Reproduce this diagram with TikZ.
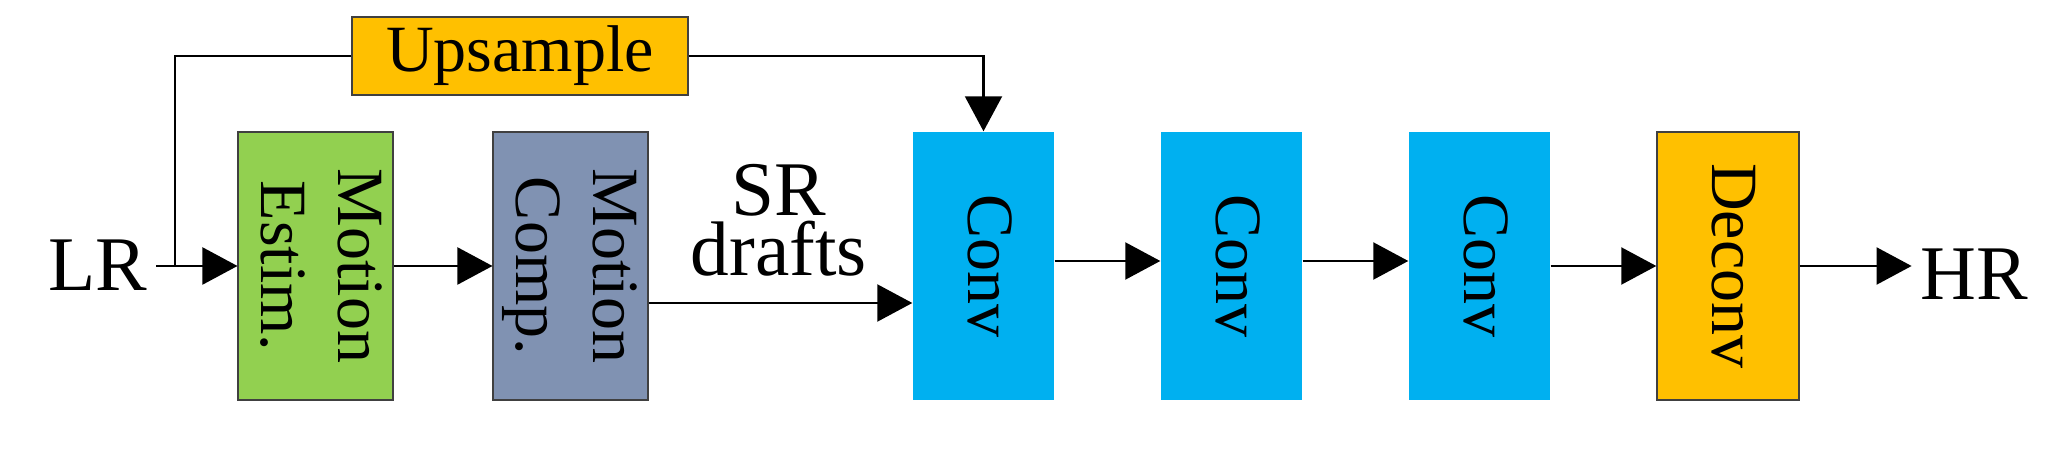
\documentclass[tikz,border=0pt]{standalone}
\usepackage{fontspec}
\usepackage{graphicx}
\setmainfont{Liberation Serif}
\usetikzlibrary{arrows.meta}

\definecolor{upcol}{HTML}{FFC000}
\definecolor{estcol}{HTML}{92D050}
\definecolor{compcol}{HTML}{8092B2}
\definecolor{convcol}{HTML}{00B0F0}

\newcommand{\vtext}[1]{\rotatebox{-90}{\begin{tabular}{@{}c@{}}#1\end{tabular}}}

\begin{document}
\begin{tikzpicture}[
    box/.style={inner sep=0pt, minimum height=2.68cm, font=\fontsize{18.8pt}{22pt}\selectfont},
    framed/.style={draw=black!75, line width=0.4pt},
    lbl/.style={inner ysep=0pt, inner xsep=0.08cm, font=\fontsize{22pt}{17pt}\selectfont},
    link/.style={line width=0.6pt, black},
    arr/.style={link, -{Triangle[length=0.35cm, width=0.37cm]}}
  ]
    \useasboundingbox (0,0) rectangle (20.67,-4.54);
    % blocks
    \node[box, framed, fill=upcol, minimum width=3.36cm, minimum height=0.78cm] (up) at (5.20,-0.56) {Upsample};
    \node[box, framed, fill=estcol, minimum width=1.53cm] (est) at (3.155,-2.66) {\vtext{Motion\\Estim.}};
    \node[box, framed, fill=compcol, minimum width=1.45cm] (comp) at (5.705,-2.66) {\vtext{Motion\\Comp.}};
    \node[box, fill=convcol, minimum width=1.41cm] (conv1) at (9.835,-2.66) {\vtext{Conv}};
    \node[box, fill=convcol, minimum width=1.41cm] (conv2) at (12.315,-2.66) {\vtext{Conv}};
    \node[box, fill=convcol, minimum width=1.41cm] (conv3) at (14.795,-2.66) {\vtext{Conv}};
    \node[box, framed, fill=upcol, minimum width=1.42cm] (deconv) at (17.28,-2.66) {\vtext{Deconv}};
    % labels
    \node[lbl, anchor=base] (lr) at (0.98,-2.91) {LR};
    \node[lbl, anchor=base] (hr) at (19.74,-3.00) {HR};
    \node[lbl, align=center, anchor=south] (sr) at (7.79,-2.77) {SR\\drafts};
    \coordinate (split) at (1.75,-2.66);
    \coordinate (drafty) at (0,-3.03);
    % connectors
    \draw[arr] (lr.east |- est.west) -- (est.west);
    \draw[link] (up.west) -| (split);
    \draw[arr] (up.east) -| (conv1.north);
    \draw[arr] (est.east) -- (comp.west);
    \draw[arr] (comp.east |- drafty) -- (conv1.west |- drafty);
    \draw[arr] ([yshift=0.05cm]conv1.east) -- ([yshift=0.05cm]conv2.west);
    \draw[arr] ([yshift=0.05cm]conv2.east) -- ([yshift=0.05cm]conv3.west);
    \draw[arr] (conv3.east) -- (deconv.west);
    \draw[arr] (deconv.east) -- (hr.west |- deconv.east);
\end{tikzpicture}
\end{document}
